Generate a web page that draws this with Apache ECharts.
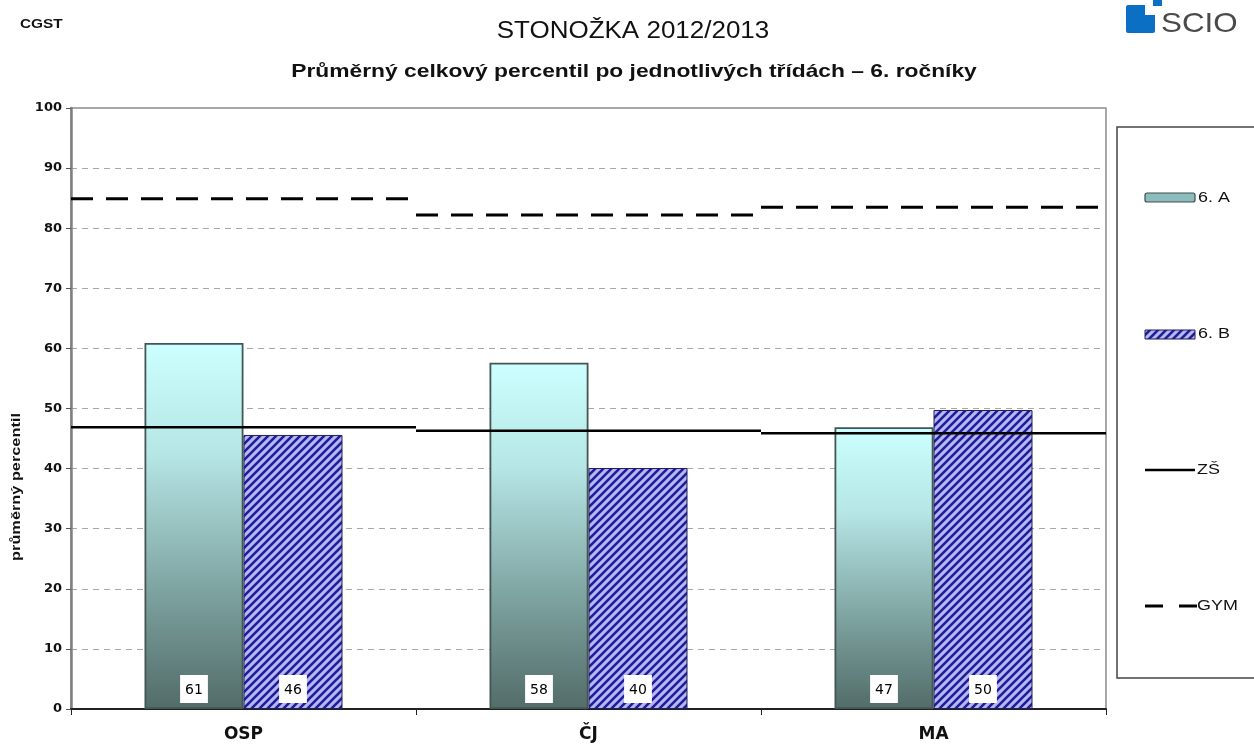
<!DOCTYPE html>
<html>
<head>
<meta charset="utf-8">
<script src="https://cdn.jsdelivr.net/npm/echarts@6/dist/echarts.min.js"></script>
<style>
html,body{margin:0;padding:0;background:#fff;}
#chart{width:1254px;height:744px;}
</style>
</head>
<body>
<div id="chart"></div>
<script>
// ---- data ----
const categories = ['OSP', 'ČJ', 'MA'];
const class6A = [60.9, 57.6, 46.9];
const class6B = [45.6, 40.1, 49.75];
const zsLine = [46.9, 46.3, 45.9];
const gymLine = [84.9, 82.2, 83.5];
const yTicks = [0, 10, 20, 30, 40, 50, 60, 70, 80, 90, 100];

const FONT = 'Liberation Sans, Arial, sans-serif';
const WIDE = 'DejaVu Sans, sans-serif';
const SX = 1.28; // horizontal stretch of the reference's text

// stripe pattern for 6. B
function makeStripe() {
  const c = document.createElement('canvas');
  c.width = 8; c.height = 8;
  const g = c.getContext('2d');
  g.fillStyle = '#b6b6f2';
  g.fillRect(0, 0, 8, 8);
  g.strokeStyle = '#1e1e98';
  g.lineWidth = 2.6;
  g.beginPath();
  g.moveTo(-2, 10); g.lineTo(10, -2);
  g.moveTo(-6, 6); g.lineTo(6, -6);
  g.moveTo(2, 14); g.lineTo(14, 2);
  g.stroke();
  return c;
}
const stripe = makeStripe();

const gradA = new echarts.graphic.LinearGradient(0, 0, 0, 1, [
  { offset: 0, color: '#ccffff' },
  { offset: 0.3, color: '#b6e6e6' },
  { offset: 0.7, color: '#7a9f9c' },
  { offset: 1, color: '#526c69' }
]);

function stepLine(dash, width) {
  return function (params, api) {
    const p = api.coord([api.value(0), api.value(1)]);
    const w = api.size([1, 0])[0];
    return {
      type: 'line',
      shape: { x1: p[0] - w / 2, y1: p[1], x2: p[0] + w / 2, y2: p[1] },
      style: { stroke: '#000', lineWidth: width, lineDash: dash }
    };
  };
}

const chart = echarts.init(document.getElementById('chart'), null, { renderer: 'canvas' });

const labelCfg = {
  show: true,
  position: 'insideBottom',
  distance: 6,
  formatter: p => Math.round(p.value),
  backgroundColor: '#fff',
  padding: [8, 5, 6, 5],
  color: '#000',
  fontFamily: WIDE,
  fontSize: 14
};

function sText(x, y, text, size, weight, align, extra) {
  return Object.assign({
    type: 'text', x: x, y: y, scaleX: SX,
    style: { text: text, fontFamily: FONT, fontSize: size, fontWeight: weight || 'normal',
      fill: '#111', align: align || 'left', verticalAlign: 'middle' }
  }, extra || {});
}

chart.setOption({
  animation: false,
  backgroundColor: '#fff',
  grid: { left: 71, right: 148, top: 108, bottom: 35, show: true, borderColor: '#8a8a8a', borderWidth: 1.5 },
  xAxis: {
    type: 'category',
    data: categories,
    axisLine: { lineStyle: { color: '#222', width: 2 } },
    axisTick: { show: true, length: 6, lineStyle: { color: '#222', width: 1 } },
    axisLabel: { margin: 17, fontFamily: WIDE, fontSize: 17, fontWeight: 'bold', color: '#111' }
  },
  yAxis: {
    type: 'value',
    min: 0, max: 100, interval: 10,
    axisLine: { show: true, lineStyle: { color: '#808080', width: 2.5 } },
    axisTick: { show: true, length: 5, lineStyle: { color: '#555' } },
    axisLabel: { margin: 9, fontFamily: WIDE, fontSize: 13, fontWeight: 'bold', color: '#111',
      formatter: v => yTicks.indexOf(v) >= 0 ? String(v) : '' },
    splitLine: { show: true, lineStyle: { color: '#a8a8a8', type: [6, 5], width: 1 } }
  },
  series: [
    { name: '6. A', type: 'bar', data: class6A, barWidth: 99, barGap: '0%',
      itemStyle: { color: gradA, borderColor: '#445654', borderWidth: 1.8 },
      label: labelCfg, z: 2 },
    { name: '6. B', type: 'bar', data: class6B, barWidth: 99, barGap: '0%',
      itemStyle: { color: { image: stripe, repeat: 'repeat' }, borderColor: '#20205a', borderWidth: 1 },
      label: labelCfg, z: 2 },
    { name: 'ZŠ', type: 'custom', renderItem: stepLine(null, 2.5),
      data: categories.map((c, i) => [c, zsLine[i]]), encode: { x: 0, y: 1 }, z: 5 },
    { name: 'GYM', type: 'custom', renderItem: stepLine([22, 13], 3),
      data: categories.map((c, i) => [c, gymLine[i]]), encode: { x: 0, y: 1 }, z: 5 }
  ],
  graphic: [
    sText(633, 32, 'STONOŽKA 2012/2013', 23, 'normal', 'center', { scaleX: 1.13 }),
    sText(634, 72, 'Průměrný celkový percentil po jednotlivých třídách – 6. ročníky', 19, 'bold', 'center', { scaleX: 1.2 }),
    sText(20, 25, 'CGST', 12, 'bold', 'left'),
    sText(17, 487, 'průměrný percentil', 12, 'bold', 'center', { rotation: Math.PI / 2, scaleX: 1.36 }),
    // SCIO logo
    { type: 'rect', shape: { x: 1126, y: 5, width: 29, height: 28, r: 2 }, style: { fill: '#0b6fc4' } },
    { type: 'rect', shape: { x: 1145, y: 5, width: 10, height: 10 }, style: { fill: '#fff' } },
    { type: 'rect', shape: { x: 1153, y: 0, width: 9, height: 6 }, style: { fill: '#0b6fc4' } },
    { type: 'text', x: 1161, y: 24, scaleX: 1.12, style: { text: 'SCIO', fontFamily: FONT, fontSize: 28, fill: '#4a4a4a', verticalAlign: 'middle' } },
    // legend box
    { type: 'rect', shape: { x: 1117, y: 127, width: 145, height: 551 }, style: { fill: '#fff', stroke: '#444', lineWidth: 1.5 } },
    { type: 'rect', shape: { x: 1145, y: 193, width: 50, height: 9, r: 2 }, style: { fill: '#8cbcbc', stroke: '#3e4e4e', lineWidth: 1.2 } },
    sText(1198, 198, '6. A', 14),
    { type: 'rect', shape: { x: 1145, y: 330, width: 50, height: 9 }, style: { fill: { image: stripe, repeat: 'repeat' }, stroke: '#20205a', lineWidth: 1 } },
    sText(1198, 334, '6. B', 14),
    { type: 'line', shape: { x1: 1145, y1: 470, x2: 1195, y2: 470 }, style: { stroke: '#000', lineWidth: 2.5 } },
    sText(1197, 470, 'ZŠ', 14),
    { type: 'line', shape: { x1: 1145, y1: 606, x2: 1197, y2: 606 }, style: { stroke: '#000', lineWidth: 3, lineDash: [18, 16] } },
    sText(1197, 606, 'GYM', 14)
  ]
});
</script>
</body>
</html>
